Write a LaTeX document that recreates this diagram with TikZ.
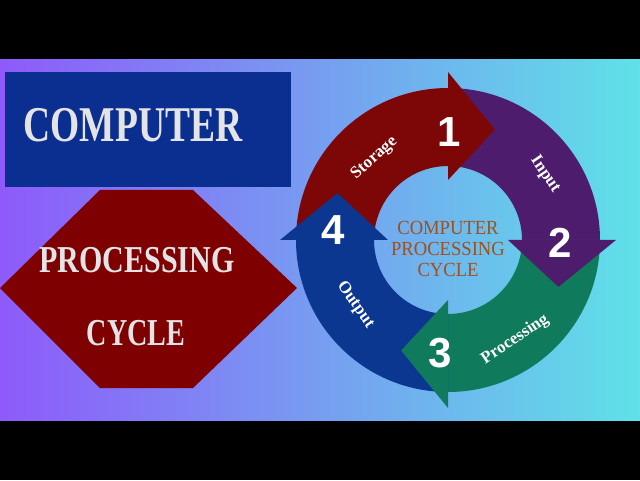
\documentclass[tikz,border=0pt]{standalone}
\usepackage{fontspec}
\setmainfont{Liberation Serif}
\newfontfamily\numfont{Liberation Sans}
\usepackage{tikz}
\usetikzlibrary{shapes,arrows,positioning,calc}
\definecolor{bgleft}{HTML}{8E5AFA}
\definecolor{bgright}{HTML}{5FE1E8}
\definecolor{boxblue}{HTML}{0A2F91}
\definecolor{hexred}{HTML}{7F0000}
\definecolor{titlegray}{HTML}{E4E4E6}
\definecolor{arrred}{HTML}{7D0606}
\definecolor{arrpurple}{HTML}{4E1C6C}
\definecolor{arrgreen}{HTML}{0F7A5C}
\definecolor{arrblue}{HTML}{0B3791}
\definecolor{centerbrown}{HTML}{A0501C}
\newcommand{\squeeze}[2]{\scalebox{#1}[1]{#2}}
\tikzstyle{title} = [text=titlegray, inner sep=0pt, font=\bfseries\fontsize{50}{54}\selectfont]
\tikzstyle{subtitle} = [text=titlegray, inner sep=0pt, font=\bfseries\fontsize{38}{42}\selectfont]
\tikzstyle{steplabel} = [text=white, inner sep=0pt, font=\bfseries\fontsize{17}{19}\selectfont]
\tikzstyle{stepnum} = [text=white, inner sep=0pt, font=\numfont\bfseries\fontsize{42}{44}\selectfont]
\tikzstyle{hub} = [text=centerbrown, align=center, inner sep=0pt, font=\fontsize{20}{21}\selectfont]

\begin{document}
\begin{tikzpicture}[x=1pt,y=1pt]
  \useasboundingbox (0,0) rectangle (640,480);
  \fill[black] (0,0) rectangle (640,480);
  \shade[left color=bgleft, right color=bgright] (0,60) rectangle (640,420);

  % left panel
  \fill[boxblue] (5,293) rectangle (291,408);
  \node (computer) [title] at (133,355) {\squeeze{0.75}{COMPUTER}};
  \fill[hexred] (100,290) -- (193,290) -- (297,192) -- (193,92) -- (100,92) -- (0,192) -- cycle;
  \node (processing) [subtitle] at (137,220) {\squeeze{0.79}{PROCESSING}};
  \node (cycle) [subtitle] at (136,147) {\squeeze{0.74}{CYCLE}};

  % cycle of arrows
  \begin{scope}[shift={(448,240)}]
    \foreach \s/\e/\c in {180/90/arrred, 90/0/arrpurple, 0/-90/arrgreen, -90/-180/arrblue}
      \fill[\c] (\s:152) arc (\s:\e:152) -- (\e:74) arc (\e:\s:74) -- cycle;
    \foreach \e/\c in {90/arrred, 0/arrpurple, -90/arrgreen, -180/arrblue}
      \fill[\c] (\e:168) -- (\e-23:120) -- (\e:60) -- cycle;

    \node (storage) [steplabel, rotate=42] at (132:110) {Storage};
    \node (input) [steplabel, rotate=-56] at (34:117) {Input};
    \node (proc) [steplabel, rotate=34] at (-56:120) {Processing};
    \node (output) [steplabel, rotate=-55] at (215:113) {Output};

    \node (one) [stepnum] at (89.5:108) {1};
    \node (two) [stepnum] at (-1.5:112) {2};
    \node (three) [stepnum] at (-94:113) {3};
    \node (four) [stepnum] at (175:115) {4};

    \node (hubtext) [hub] at (0,-9) {\squeeze{0.93}{COMPUTER}\\\squeeze{0.93}{PROCESSING}\\\squeeze{0.93}{CYCLE}};
  \end{scope}
\end{tikzpicture}
\end{document}
